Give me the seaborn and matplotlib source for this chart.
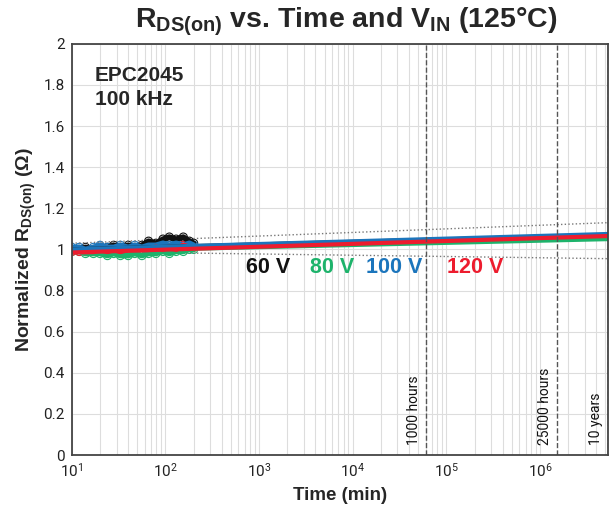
import pandas as pd
import numpy as np
import matplotlib.pyplot as plt
import seaborn as sns

# measured points (time in minutes, normalized Rds(on))
t_meas = [10, 12, 14, 17, 20, 24, 28, 33, 40, 47, 56, 66, 79, 94, 110, 130, 155, 180, 200]
r_60v = [1.00, 1.00, 1.01, 1.00, 1.01, 1.01, 1.02, 1.01, 1.02, 1.01, 1.02, 1.04, 1.03, 1.05, 1.06, 1.05, 1.06, 1.04, 1.03]
r_80v = [0.99, 0.99, 0.98, 0.98, 0.98, 0.97, 0.98, 0.97, 0.97, 0.98, 0.97, 0.98, 0.98, 0.99, 0.98, 0.99, 0.99, 1.00, 1.00]
r_100v = [1.01, 1.01, 1.00, 1.01, 1.02, 1.01, 1.01, 1.02, 1.01, 1.02, 1.01, 1.02, 1.02, 1.03, 1.02, 1.03, 1.02, 1.03, 1.02]
r_120v = [0.99, 0.99, 0.99, 0.99, 1.00, 0.99, 1.00, 0.99, 1.00, 1.00, 1.00, 1.00, 1.01, 1.00, 1.01, 1.00, 1.02, 1.01, 1.01]

# extrapolated fits, start and end of the time range
t_fit = [10, 5.256e6]
fit_60v = [1.00, 1.07]
fit_80v = [0.99, 1.05]
fit_100v = [1.00, 1.075]
fit_120v = [0.985, 1.065]
bound_hi = [1.03, 1.13]
bound_lo = [0.99, 0.955]

vin_labels = ['60 V', '80 V', '100 V', '120 V']
vin_colors = ['#111111', '#1db36b', '#1b75bc', '#ed1c2e']
label_x = [1240, 6000, 27600, 2.02e5]

markers_ref = [('1000 hours', 60000), ('25000 hours', 1.5e6), ('10 years', 5.256e6)]

sns.set_style('white')
plt.rcParams['font.family'] = ['Liberation Sans', 'DejaVu Sans']
plt.rcParams['mathtext.fontset'] = 'custom'
plt.rcParams['mathtext.rm'] = 'Liberation Sans'
plt.rcParams['mathtext.bf'] = 'Liberation Sans:bold'
narrow = ['Liberation Sans Narrow', 'DejaVu Sans Condensed', 'Roboto', 'DejaVu Sans']

meas = pd.DataFrame({
    'time': t_meas * 4,
    'r': r_60v + r_80v + r_100v + r_120v,
    'vin': sum([[v] * len(t_meas) for v in vin_labels], []),
})
fits = pd.DataFrame({
    'time': t_fit * 4,
    'r': fit_60v + fit_80v + fit_100v + fit_120v,
    'vin': sum([[v] * 2 for v in vin_labels], []),
})
pal = dict(zip(vin_labels, vin_colors))

fig = plt.figure(figsize=(6.14, 5.09), dpi=100)
ax = fig.add_axes([0.117, 0.106, 0.873, 0.808])

ax.plot(t_fit, bound_hi, ls=':', color='#777777', lw=1)
ax.plot(t_fit, bound_lo, ls=':', color='#777777', lw=1)

# measured data: thick line plus open circles
sns.lineplot(data=meas, x='time', y='r', hue='vin', palette=pal, hue_order=vin_labels,
             lw=4, estimator=None, legend=False, ax=ax)
for lab, col in zip(vin_labels, vin_colors):
    sub = meas[meas['vin'] == lab]
    sns.scatterplot(x=sub['time'], y=sub['r'], marker='o', s=34, facecolor='none',
                    edgecolor=col, linewidth=0.8, ax=ax)

sns.lineplot(data=fits, x='time', y='r', hue='vin', palette=pal, hue_order=vin_labels,
             lw=3, estimator=None, legend=False, ax=ax)

ax.set_xscale('log')
ax.set_xlim(10, 5.3e6)
ax.set_ylim(0, 2)
ax.set_yticks(np.arange(0, 2.01, 0.2))
ax.set_yticklabels(['0', '0.2', '0.4', '0.6', '0.8', '1', '1.2', '1.4', '1.6', '1.8', '2'])
ax.grid(True, which='major', axis='y', color='#dddddd', lw=0.8)
ax.grid(True, which='both', axis='x', color='#dddddd', lw=0.8)
ax.set_axisbelow(True)
for s in ax.spines.values():
    s.set_color('#444444')
    s.set_linewidth(1.3)
ax.tick_params(axis='both', which='both', length=0, labelsize=11, pad=5)
for lab in ax.get_xticklabels() + ax.get_yticklabels():
    lab.set_family(narrow)
    lab.set_color('#222222')

for txt, tx in markers_ref:
    ax.axvline(tx, color='#555555', ls='--', lw=1)
    ax.text(tx * 0.9, 0.05, txt, rotation=90, ha='right', va='bottom', fontsize=10,
            family=narrow, color='#111111')

for lab, col, lx in zip(vin_labels, vin_colors, label_x):
    ax.text(lx, 0.91, lab, color=col, fontsize=15.5, fontweight='bold', ha='center', va='center')

ax.text(0.043, 0.945, 'EPC2045\n100 kHz', transform=ax.transAxes, fontsize=15, fontweight='bold',
        ha='left', va='top', linespacing=1.3)

ax.set_xlabel('Time (min)', fontsize=13.5, fontweight='bold', labelpad=5)
ax.set_ylabel(r'Normalized R$_{\mathbf{DS(on)}}$ ($\mathbf{\Omega}$)', fontsize=14, fontweight='bold', labelpad=4)
fig.suptitle(r'R$_{\mathbf{DS(on)}}$ vs. Time and V$_{\mathbf{IN}}$ (125°C)', x=0.564, y=0.99,
             fontsize=20.5, fontweight='bold')

fig.savefig('out.png', dpi=100)
